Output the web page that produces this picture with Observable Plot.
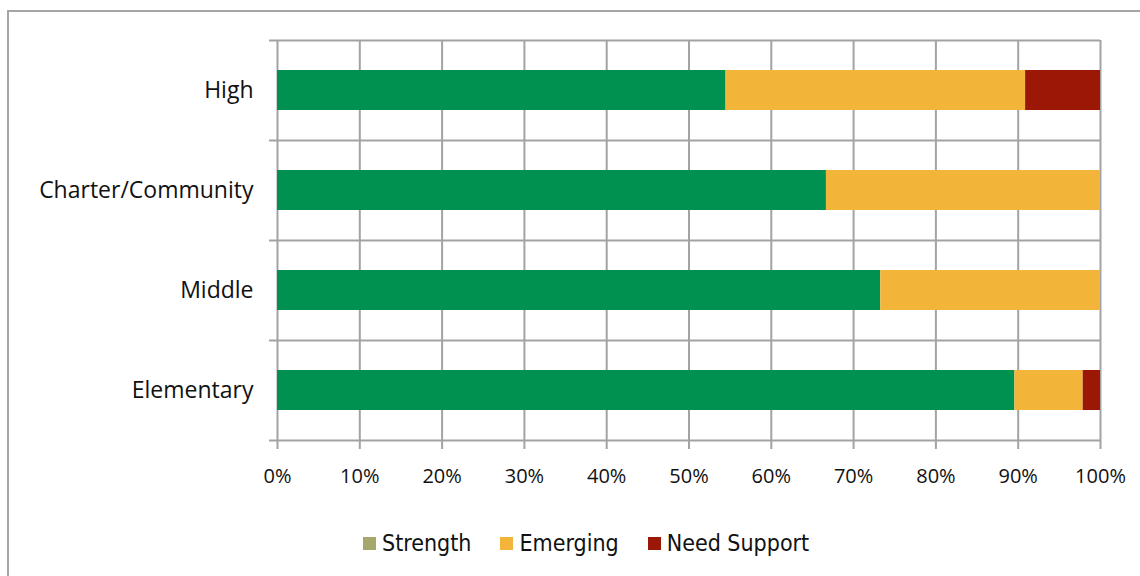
<!DOCTYPE html>
<html>
<head>
<meta charset="utf-8">
<script src="https://cdn.jsdelivr.net/npm/d3@7"></script>
<script src="https://cdn.jsdelivr.net/npm/@observablehq/plot@0.6"></script>
<style>
  html, body { margin: 0; padding: 0; background: #fff; }
  body { width: 1140px; height: 576px; overflow: hidden; position: relative; }
  #frame {
    position: absolute; left: 7px; top: 10px; width: 1300px; height: 800px;
    border: 2px solid #a6a6a6; box-sizing: border-box;
  }
  #chart { position: absolute; left: 0; top: 0; }
  #chart svg g[aria-label="y-axis tick label"] text { font-size: 23px; }
  #legend {
    position: absolute; left: 363px; top: 530px; display: flex; align-items: center;
    font-family: "DejaVu Sans Condensed", "DejaVu Sans", sans-serif; font-stretch: condensed;
    font-size: 23px; color: #111;
  }
  #legend .item { display: flex; align-items: center; margin-right: 29px; }
  #legend .swatch { width: 13px; height: 13px; margin-right: 6px; }
</style>
</head>
<body>
<div id="frame"></div>
<div id="chart"></div>
<div id="legend"></div>
<script>
// School levels, top to bottom
const categories = ["High", "Charter/Community", "Middle", "Elementary"];
// Rating groups, stacked left to right
const series = ["Strength", "Emerging", "Need Support"];
// Percent of schools in each group
const strength = [54.5, 66.7, 73.3, 89.6];
const emerging = [36.4, 33.3, 26.7, 8.3];
const needSupport = [9.1, 0, 0, 2.1];
// Axis ticks
const xTicks = [0, 10, 20, 30, 40, 50, 60, 70, 80, 90, 100];

const barColors = ["#009150", "#f2b53a", "#9c1806"];
const legendColors = ["#a5a86a", "#f2b53a", "#9c1806"];
const lineColor = "#a3a3a3";

const values = [strength, emerging, needSupport];
const rows = [];
categories.forEach((c, i) => {
  series.forEach((s, j) => rows.push({category: c, series: s, value: values[j][i]}));
});

const width = 1140, height = 520;
const marginTop = 40, marginBottom = 80, marginLeft = 277, marginRight = 40;
const halfStep = (height - marginTop - marginBottom) / categories.length / 2;

const chart = Plot.plot({
  width, height, marginTop, marginBottom, marginLeft, marginRight,
  style: {fontFamily: "'Open Sans', sans-serif", fontSize: "20px", color: "#111", background: "transparent"},
  x: {domain: [0, 100], ticks: xTicks, tickFormat: d => d + "%", tickSize: 0, tickPadding: 28, label: null},
  y: {domain: categories, paddingInner: 0.6, paddingOuter: 0.3, tickSize: 0, tickPadding: 24, label: null},
  color: {domain: series, range: barColors},
  marks: [
    // vertical gridlines, extended below the axis as tick marks
    Plot.ruleX(xTicks, {x: d => d, stroke: lineColor, strokeWidth: 2, insetBottom: -9}),
    // category boundary ticks on the left axis
    Plot.ruleY(categories, {y: d => d, dy: -halfStep, insetLeft: -8, stroke: lineColor, strokeWidth: 2}),
    Plot.ruleY(categories.slice(-1), {y: d => d, dy: halfStep, insetLeft: -8, stroke: lineColor, strokeWidth: 2}),
    Plot.barX(rows, Plot.stackX({y: "category", x: "value", fill: "series"}))
  ]
});
document.getElementById("chart").appendChild(chart);

const legend = document.getElementById("legend");
series.forEach((s, i) => {
  const item = document.createElement("div");
  item.className = "item";
  const sw = document.createElement("div");
  sw.className = "swatch";
  sw.style.background = legendColors[i];
  const label = document.createElement("span");
  label.textContent = s;
  item.appendChild(sw);
  item.appendChild(label);
  legend.appendChild(item);
});
</script>
</body>
</html>
